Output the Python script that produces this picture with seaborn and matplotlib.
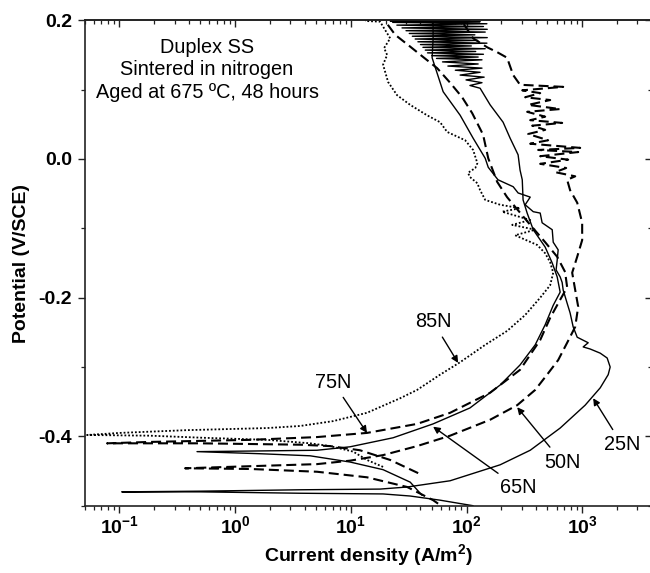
import matplotlib
matplotlib.use('Agg')
import matplotlib.pyplot as plt
import seaborn as sns
import numpy as np
import pandas as pd
from matplotlib.ticker import LogLocator, NullFormatter, MultipleLocator

# Data: polarisation curves, current density (A/m2) vs potential (V/SCE)
cur_25 = [114, 59.1, 32.6, 19.0, 3.65, 0.50, 0.105, 0.50, 3.65, 17.9, 30.7, 72.1, 195, 355,
          644, 1059, 1429, 1675, 1742, 1641, 1429, 1170, 1018, 1125, 904, 834, 785, 740, 684,
          670, 644, 594, 607, 619, 561, 550, 450, 433, 377, 321, 355, 279, 253, 187, 154, 145,
          114, 88.1, 62.8, 50.4, 51.4, 51.4]
pot_25 = [-0.500, -0.492, -0.486, -0.483, -0.482, -0.480, -0.480, -0.479, -0.477, -0.476,
          -0.473, -0.464, -0.441, -0.420, -0.388, -0.355, -0.330, -0.311, -0.300, -0.287,
          -0.280, -0.274, -0.271, -0.265, -0.257, -0.242, -0.222, -0.208, -0.189, -0.178,
          -0.170, -0.160, -0.146, -0.131, -0.120, -0.102, -0.092, -0.078, -0.076, -0.066,
          -0.055, -0.049, -0.040, -0.030, -0.012, 0.001, 0.030, 0.063, 0.097, 0.146, 0.172, 0.199]

cur_50 = [56.8, 51.4, 30.7, 13.8, 5.11, 1.35, 0.370, 1.35, 5.11, 9.86, 19.0, 37.4, 72.1, 160,
          274, 392, 507, 619, 740, 869, 922, 869, 818, 904, 998, 998, 904, 785, 740, 869, 583,
          726, 433, 755, 433, 922, 416, 959, 355, 507, 341, 478, 369, 670, 355, 478, 334, 644,
          341, 528, 321, 433, 303, 684, 290, 253, 224, 184, 151, 114, 91.6]
pot_50 = [-0.497, -0.492, -0.473, -0.459, -0.451, -0.447, -0.446, -0.443, -0.440, -0.435,
          -0.427, -0.414, -0.399, -0.376, -0.355, -0.333, -0.309, -0.290, -0.265, -0.242,
          -0.213, -0.189, -0.164, -0.141, -0.117, -0.092, -0.063, -0.045, -0.030, -0.025,
          -0.019, -0.013, -0.007, -0.001, 0.004, 0.010, 0.013, 0.016, 0.022, 0.027, 0.036,
          0.042, 0.048, 0.052, 0.056, 0.061, 0.068, 0.072, 0.078, 0.085, 0.089, 0.095, 0.099,
          0.104, 0.107, 0.121, 0.146, 0.154, 0.161, 0.174, 0.198]

cur_65 = [41.3, 32.6, 19.0, 9.86, 4.45, 1.64, 0.469, 1.64, 5.11, 9.86, 23.2, 51.4, 107, 195,
          290, 392, 478, 561, 644, 607, 550, 478, 377, 334, 308, 303, 290, 279, 238, 207, 160,
          131, 107, 136, 99, 142, 88, 131, 80, 136, 69, 126, 62, 136, 55, 126, 50, 140, 46,
          120, 44, 145, 42, 110, 40, 150, 38, 125, 36, 151, 34, 118, 32, 145, 30, 151, 27.7,
          140, 25, 150, 23, 131, 21.9, 107]
pot_65 = [-0.485, -0.466, -0.448, -0.437, -0.428, -0.425, -0.422, -0.421, -0.420, -0.415,
          -0.402, -0.382, -0.359, -0.326, -0.297, -0.268, -0.239, -0.211, -0.192, -0.170,
          -0.150, -0.127, -0.102, -0.078, -0.059, -0.030, -0.016, 0.006, 0.030, 0.053, 0.078,
          0.102, 0.106, 0.110, 0.114, 0.118, 0.121, 0.125, 0.128, 0.131, 0.134, 0.137, 0.140,
          0.143, 0.145, 0.147, 0.149, 0.151, 0.153, 0.155, 0.157, 0.159, 0.161, 0.163, 0.165,
          0.167, 0.169, 0.171, 0.173, 0.175, 0.177, 0.179, 0.181, 0.183, 0.185, 0.187, 0.189,
          0.191, 0.193, 0.195, 0.197, 0.198, 0.199, 0.200]

cur_75 = [38.2, 21.9, 12.0, 6.62, 3.65, 1.35, 0.498, 0.184, 0.0783, 0.184, 1.35, 5.11, 13.8,
          37.4, 72.1, 160, 290, 433, 528, 644, 740, 711, 607, 478, 355, 263, 224, 184, 154,
          139, 112, 91.6, 72.1, 55.7, 42.2, 32.6, 24.2, 21.0, 19.8]
pot_75 = [-0.453, -0.434, -0.420, -0.414, -0.412, -0.411, -0.410, -0.410, -0.410, -0.408,
          -0.405, -0.401, -0.395, -0.382, -0.366, -0.337, -0.304, -0.261, -0.229, -0.203,
          -0.185, -0.163, -0.141, -0.120, -0.095, -0.069, -0.055, -0.033, 0.001, 0.035, 0.066,
          0.089, 0.110, 0.131, 0.147, 0.162, 0.179, 0.193, 0.200]

cur_85 = [19.0, 13.8, 10.5, 6.62, 4.45, 1.89, 0.529, 0.184, 0.0526, 0.101, 0.385, 1.89, 3.65,
          7.03, 13.8, 26.7, 37.4, 59.1, 88.1, 145, 224, 321, 433, 528, 561, 528, 478, 408,
          263, 392, 248, 355, 203, 290, 195, 145, 131, 124, 107, 103, 119, 124, 114, 97.3,
          68.0, 59.1, 45.6, 32.6, 25.1, 21.0, 19.0, 20.6, 19.4, 21.9, 19.8, 17.9, 13.3]
pot_85 = [-0.444, -0.434, -0.422, -0.414, -0.410, -0.405, -0.402, -0.399, -0.398, -0.395,
          -0.391, -0.388, -0.385, -0.378, -0.366, -0.345, -0.333, -0.311, -0.293, -0.268,
          -0.248, -0.225, -0.200, -0.182, -0.164, -0.149, -0.136, -0.124, -0.110, -0.102,
          -0.095, -0.088, -0.076, -0.071, -0.066, -0.059, -0.045, -0.035, -0.026, -0.020,
          -0.013, -0.006, 0.013, 0.027, 0.039, 0.053, 0.063, 0.078, 0.092, 0.111, 0.136,
          0.150, 0.160, 0.174, 0.186, 0.198, 0.199]

# Style
sns.set_style('ticks')
plt.rcParams['font.family'] = ['Liberation Sans', 'DejaVu Sans']
plt.rcParams['mathtext.fontset'] = 'custom'
plt.rcParams['mathtext.rm'] = 'Liberation Sans'
plt.rcParams['mathtext.bf'] = 'Liberation Sans:bold'
plt.rcParams['mathtext.it'] = 'Liberation Sans:italic'
plt.rcParams['axes.unicode_minus'] = False
plt.rcParams['text.color'] = 'black'
plt.rcParams['axes.labelcolor'] = 'black'
plt.rcParams['xtick.color'] = 'black'
plt.rcParams['ytick.color'] = 'black'

fig = plt.figure(figsize=(6.5, 5.73), dpi=100)
ax = fig.add_axes([0.130, 0.1174, 0.873, 0.8472])
ax.set_xscale('log')

curves = [
    (cur_25, pot_25, '-', 1.0),
    (cur_50, pot_50, (0, (4.8, 2.4)), 1.5),
    (cur_65, pot_65, '-', 1.0),
    (cur_75, pot_75, (0, (4.8, 2.4)), 1.5),
    (cur_85, pot_85, (0, (1, 1.1)), 1.3),
]
for cur, pot, ls, lw in curves:
    df = pd.DataFrame({'current': cur, 'potential': pot})
    sns.lineplot(data=df, x='current', y='potential', sort=False, estimator=None,
                 ax=ax, color='black', linestyle=ls, lw=lw)

ax.set_xlim(0.05, 4000)
ax.set_ylim(-0.5, 0.2)

# Ticks
xmaj = [0.1, 1, 10, 100, 1000]
ax.set_xticks(xmaj)
ax.set_xticklabels([r'$\mathbf{10^{%d}}$' % round(np.log10(v)) for v in xmaj])
ax.xaxis.set_minor_locator(LogLocator(base=10, subs=np.arange(2, 10), numticks=20))
ax.xaxis.set_minor_formatter(NullFormatter())
ymaj = [-0.4, -0.2, 0.0, 0.2]
ax.set_yticks(ymaj)
ax.set_yticklabels(['-0.4', '-0.2', '0.0', '0.2'], fontweight='bold')
ax.yaxis.set_minor_locator(MultipleLocator(0.1))
ax.tick_params(which='major', direction='out', length=5, width=1, labelsize=14, color='#222')
ax.tick_params(which='minor', direction='out', length=3, width=0.9, color='#222')
ax.tick_params(axis='x', which='major', pad=1.5)
ax.tick_params(axis='y', which='major', pad=4)

secx = ax.secondary_xaxis('top')
secx.set_xticks(xmaj)
secx.xaxis.set_minor_locator(LogLocator(base=10, subs=np.arange(2, 10), numticks=20))
secx.xaxis.set_minor_formatter(NullFormatter())
secx.tick_params(which='major', direction='in', length=5, width=1, labeltop=False, color='#222')
secx.tick_params(which='minor', direction='in', length=3, width=0.9, color='#222')
secy = ax.secondary_yaxis('right')
secy.set_yticks(ymaj)
secy.yaxis.set_minor_locator(MultipleLocator(0.1))
secy.tick_params(which='major', direction='in', length=5, width=1, labelright=False, color='#222')
secy.tick_params(which='minor', direction='in', length=3, width=0.9, color='#222')

for a in (ax, secx, secy):
    for sp in a.spines.values():
        sp.set_linewidth(1.2)
        sp.set_color('#222')

# Labels
ax.set_xlabel(r'Current density (A/m$^\mathbf{2}$)', fontsize=14, fontweight='bold')
ax.set_ylabel('Potential (V/SCE)', fontsize=14, fontweight='bold')
ax.xaxis.set_label_coords(0.5, -0.075)
ax.yaxis.set_label_coords(-0.096, 0.5)

ax.text(0.216, 0.8976, 'Duplex SS\nSintered in nitrogen\nAged at 675 ºC, 48 hours',
        transform=ax.transAxes, ha='center', va='center', fontsize=14.3, linespacing=1.25)

# Curve labels with arrows
arrow = dict(arrowstyle='-|>', color='black', lw=1.0, mutation_scale=10, shrinkA=2, shrinkB=0)
ax.annotate('85N', xy=(84.6, -0.294), xytext=(51.4, -0.235), ha='center', va='center',
            fontsize=14.3, arrowprops=arrow)
ax.annotate('75N', xy=(13.8, -0.395), xytext=(7.03, -0.322), ha='center', va='center',
            fontsize=14.3, arrowprops=arrow)
ax.annotate('65N', xy=(51.4, -0.386), xytext=(279, -0.474), ha='center', va='center',
            fontsize=14.3, arrowprops=arrow)
ax.annotate('50N', xy=(274, -0.358), xytext=(670, -0.437), ha='center', va='center',
            fontsize=14.3, arrowprops=arrow)
ax.annotate('25N', xy=(1242, -0.345), xytext=(2213, -0.412), ha='center', va='center',
            fontsize=14.3, arrowprops=arrow)

fig.savefig('out.png', dpi=100)
